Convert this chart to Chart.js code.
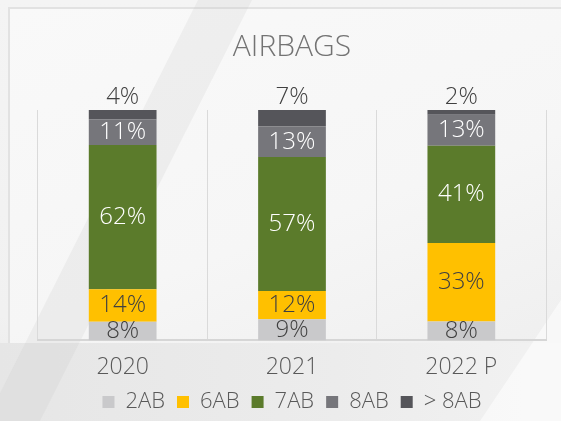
<!DOCTYPE html>
<html>
<head>
<meta charset="utf-8">
<script src="https://cdn.jsdelivr.net/npm/chart.js@4.4.1/dist/chart.umd.min.js"></script>
<style>
  html, body { margin: 0; padding: 0; }
  body { width: 561px; height: 421px; position: relative; overflow: hidden;
         background: linear-gradient(180deg, #f4f4f4 0%, #f1f1f1 75%, #e9e9e9 100%); }
  .panel { position: absolute; left: 8px; top: 7px; width: 560px; height: 335px;
           border-top: 2px solid #e2e2e2; border-left: 2px solid #e2e2e2;
           background: linear-gradient(160deg, #f9f9f9 0%, #f6f6f6 60%, #efefef 100%); }
  .low { position: absolute; left: 0; top: 343px; width: 561px; height: 78px;
         background: linear-gradient(90deg, #e6e6e6 0%, #ececec 60%, #f2f2f2 100%); }
  .band { position: absolute; left: 0; top: 0; width: 561px; height: 421px;
          background: rgba(200,200,200,0.2);
          clip-path: polygon(198px 0, 252px 0, 40px 421px, -14px 421px); }
  .glow { position: absolute; left: 0; top: 0; width: 561px; height: 421px;
          background: rgba(255,255,255,0.55);
          clip-path: polygon(561px 300px, 561px 421px, 480px 421px); }
  .wrap { position: absolute; left: 0; top: 0; width: 561px; height: 421px; }
</style>
</head>
<body>
<div class="panel"></div>
<div class="low"></div>
<div class="band"></div>
<div class="glow"></div>
<div class="wrap"><canvas id="chart" width="561" height="421"></canvas></div>
<script>
const years = ["2020", "2021", "2022 P"];
const seriesNames = ["2AB", "6AB", "7AB", "8AB", "> 8AB"];
const ab2 = [8, 9, 8];
const ab6 = [14, 12, 33];
const ab7 = [62, 57, 41];
const ab8 = [11, 13, 13];
const abMore = [4, 7, 2];
const colors = ["#c9c9cb", "#ffc000", "#5b7b2b", "#76767b", "#55555a"];
const labelColors = ["#404040", "#404040", "#ffffff", "#ffffff", "#404040"];

const raw = [ab2, ab6, ab7, ab8, abMore];
const totals = years.map((_, i) => raw.reduce((s, arr) => s + arr[i], 0));

const FONT = "'Open Sans', 'DejaVu Sans', sans-serif";

// draws the % value inside each segment, top series sits above the bar
const segmentLabels = {
  id: "segmentLabels",
  afterDatasetsDraw(chart) {
    const ctx = chart.ctx;
    ctx.save();
    ctx.font = "300 24px " + FONT;
    ctx.textAlign = "center";
    ctx.textBaseline = "middle";
    chart.data.datasets.forEach((ds, di) => {
      const meta = chart.getDatasetMeta(di);
      meta.data.forEach((bar, i) => {
        const txt = ds.rawValues[i] + "%";
        ctx.fillStyle = labelColors[di];
        if (di === chart.data.datasets.length - 1) {
          ctx.fillText(txt, bar.x, bar.y - 13);
        } else {
          ctx.fillText(txt, bar.x, (bar.y + bar.base) / 2);
        }
      });
    });
    ctx.restore();
  }
};

new Chart(document.getElementById("chart"), {
  type: "bar",
  data: {
    labels: years,
    datasets: raw.map((arr, k) => ({
      label: seriesNames[k],
      data: arr.map((v, i) => v / totals[i] * 100),
      rawValues: arr,
      backgroundColor: colors[k],
      borderWidth: 0,
      categoryPercentage: 1,
      barPercentage: 0.4
    }))
  },
  options: {
    responsive: false,
    animation: false,
    layout: { padding: { left: 38, right: 15, top: 18, bottom: -2 } },
    plugins: {
      title: {
        display: true,
        text: "AIRBAGS",
        color: "#737373",
        font: { family: FONT, size: 30, weight: 300 },
        padding: { top: 11, bottom: 45 }
      },
      legend: {
        position: "bottom",
        labels: {
          boxWidth: 12,
          boxHeight: 12,
          color: "#595959",
          padding: 12,
          font: { family: FONT, size: 22, weight: 300 }
        }
      },
      tooltip: { enabled: false }
    },
    scales: {
      x: {
        stacked: true,
        grid: { color: "#dadada", lineWidth: 1, drawTicks: false },
        border: { color: "#d6d6d6", width: 2 },
        ticks: { color: "#595959", padding: 13, font: { family: FONT, size: 23, weight: 300 } },
        afterFit: (scale) => { scale.height -= 15; }
      },
      y: {
        stacked: true,
        display: false,
        min: 0,
        max: 100
      }
    }
  },
  plugins: [segmentLabels]
});
</script>
</body>
</html>
